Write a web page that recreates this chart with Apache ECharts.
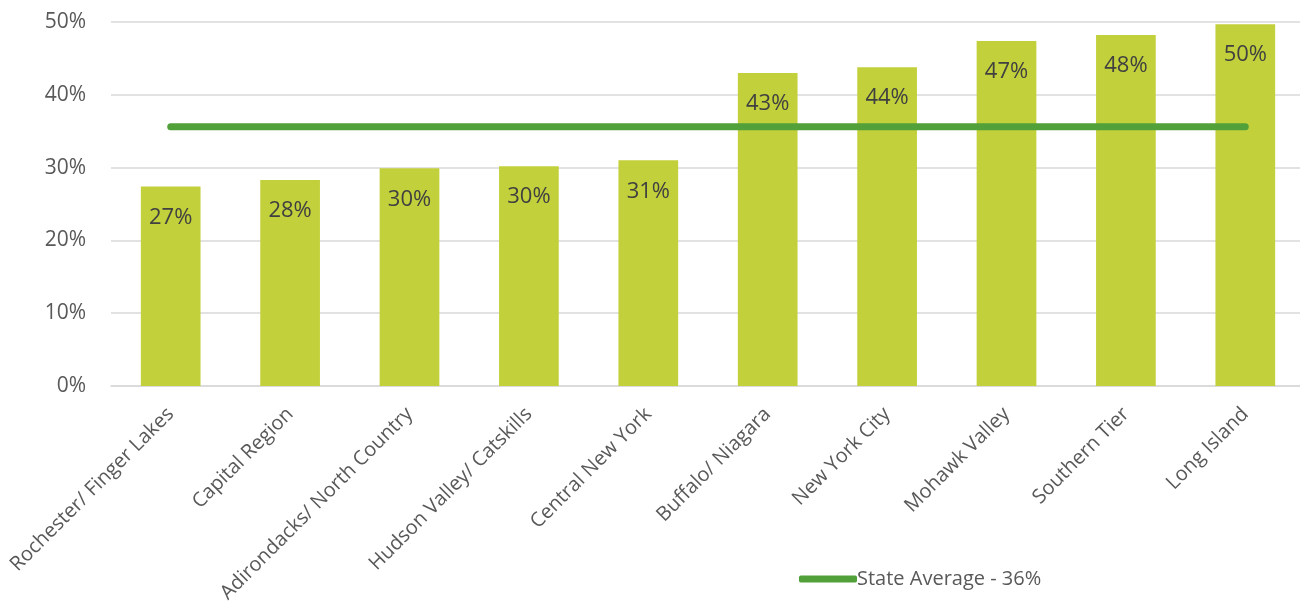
<!DOCTYPE html>
<html>
<head>
<meta charset="utf-8">
<script src="https://cdn.jsdelivr.net/npm/echarts@6/dist/echarts.min.js"></script>
<style>
  html, body { margin: 0; padding: 0; background: #ffffff; }
  #chart { width: 1300px; height: 605px; }
</style>
</head>
<body>
<div id="chart"></div>
<script>
// Share by region (percent)
const regions = [
  'Rochester/ Finger Lakes', 'Capital Region', 'Adirondacks/ North Country',
  'Hudson Valley/ Catskills', 'Central New York', 'Buffalo/ Niagara',
  'New York City', 'Mohawk Valley', 'Southern Tier', 'Long Island'
];
const regionValues = [27.4, 28.3, 29.9, 30.2, 31.0, 43.0, 43.8, 47.4, 48.2, 49.7];
const stateAverage = 35.6;
const yTicks = { min: 0, max: 50, interval: 10 };

const FONT = "'Open Sans', 'Noto Sans', sans-serif";
const avgName = 'State Average - ' + Math.round(stateAverage) + '%';

const chart = echarts.init(document.getElementById('chart'), null, { renderer: 'canvas' });
chart.setOption({
  animation: false,
  textStyle: { fontFamily: FONT },
  grid: {
    left: 111, top: 22, width: 1194, height: 364,
    containLabel: false, outerBoundsMode: 'none'
  },
  legend: {
    left: 794, top: 564,
    itemWidth: 58, itemHeight: 7, itemGap: 10,
    icon: 'roundRect',
    textStyle: { fontFamily: FONT, fontSize: 20, color: '#595959', padding: [0, 0, 0, -5] },
    data: [{ name: avgName }]
  },
  xAxis: {
    type: 'category',
    data: regions,
    axisLine: { show: true, lineStyle: { color: '#d9d9d9', width: 1.5 } },
    axisTick: { show: false },
    axisLabel: {
      interval: 0, rotate: 45, margin: 25,
      fontFamily: FONT, fontSize: 20, color: '#595959'
    }
  },
  yAxis: {
    type: 'value',
    min: yTicks.min, max: yTicks.max, interval: yTicks.interval,
    axisLine: { show: false },
    axisTick: { show: false },
    splitLine: { lineStyle: { color: '#d9d9d9', width: 1.5 } },
    axisLabel: {
      formatter: '{value}%', margin: 25,
      fontFamily: FONT, fontSize: 21, color: '#595959'
    }
  },
  series: [
    {
      name: 'Regions',
      type: 'bar',
      data: regionValues,
      barWidth: '50%',
      itemStyle: { color: '#c2d03b' },
      label: {
        show: true, position: 'insideTop', distance: 20,
        formatter: p => Math.round(p.value) + '%',
        fontFamily: FONT, fontSize: 22, color: '#404040'
      },
      z: 2
    },
    {
      name: avgName,
      type: 'line',
      data: regions.map(() => stateAverage),
      symbol: 'none',
      lineStyle: { color: '#52a03a', width: 7, cap: 'round' },
      itemStyle: { color: '#52a03a' },
      z: 3
    }
  ]
});
</script>
</body>
</html>
